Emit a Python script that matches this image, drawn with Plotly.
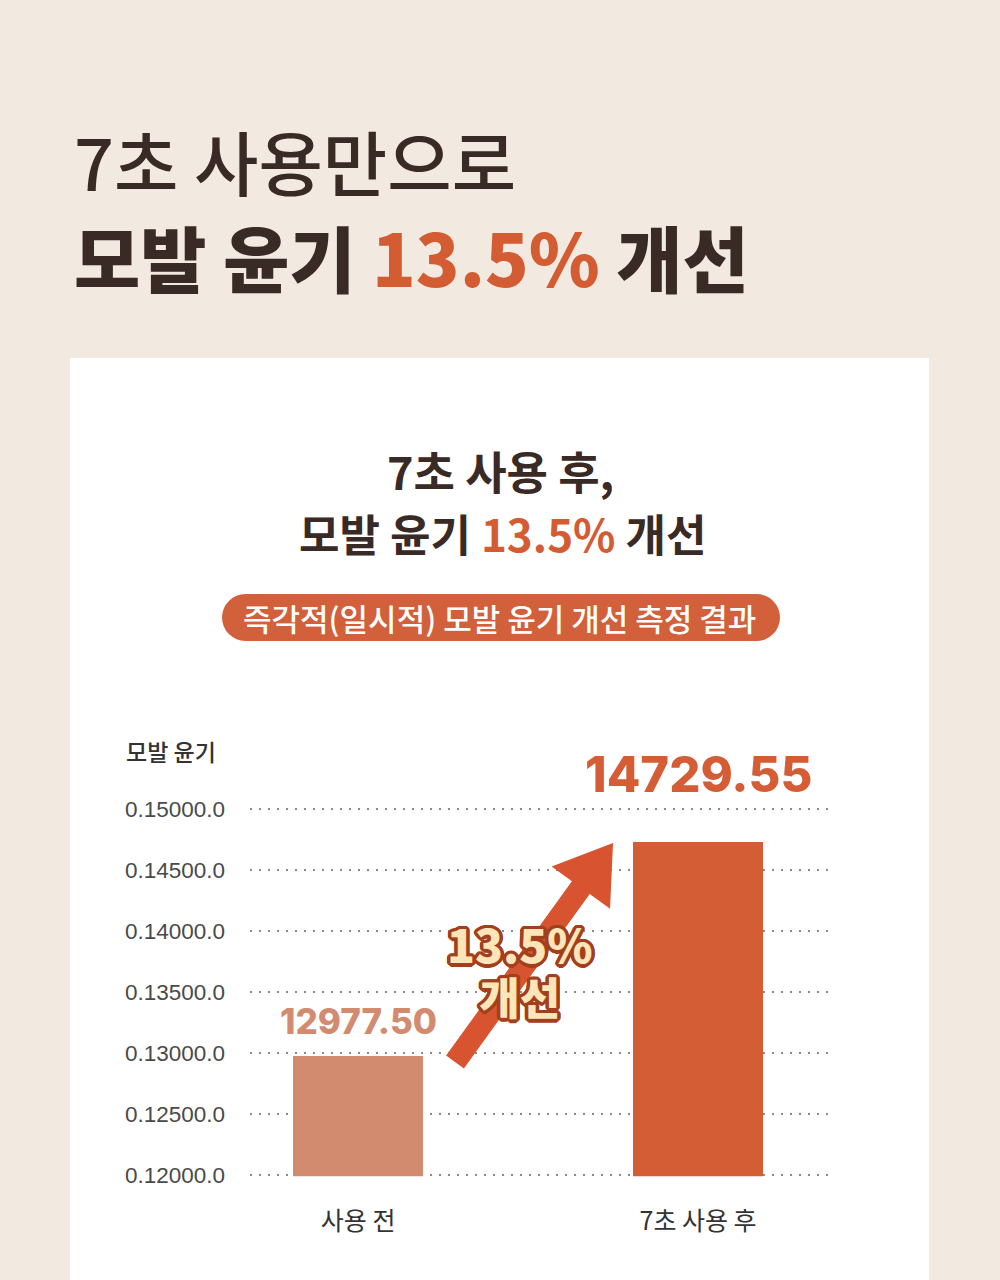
import plotly.graph_objects as go
import math

# ---- data ----
categories = ["사용 전", "7초 사용 후"]
values = [12977.50, 14729.55]
value_labels = ["12977.50", "14729.55"]
tick_values = [12000, 12500, 13000, 13500, 14000, 14500, 15000]
tick_labels = ["0.12000.0", "0.12500.0", "0.13000.0", "0.13500.0",
               "0.14000.0", "0.14500.0", "0.15000.0"]
bar_colors = ["#D38B70", "#D45D35"]

W, H = 1000, 1280
def px(x):
    return x / W
def py(y):
    return 1 - y / H

KR = "Noto Sans CJK KR"
DARK = "#3A2A25"
ORANGE = "#D35C33"

fig = go.Figure()
fig.add_trace(go.Bar(
    x=categories, y=values, marker=dict(color=bar_colors, line=dict(width=0)),
    width=0.382, hoverinfo="skip", showlegend=False,
))

shapes = []
# white card
shapes.append(dict(type="rect", xref="paper", yref="paper",
                   x0=px(70), x1=px(929), y0=py(1290), y1=py(358),
                   fillcolor="#FFFFFF", line=dict(width=0), layer="below"))
# pill
pill_col = "#D2603A"
p_top, p_bot = 594, 641
r = (p_bot - p_top) / 2
shapes.append(dict(type="rect", xref="paper", yref="paper",
                   x0=px(222 + r), x1=px(780 - r), y0=py(p_bot), y1=py(p_top),
                   fillcolor=pill_col, line=dict(width=0), layer="below"))
for cx in (222 + r, 780 - r):
    shapes.append(dict(type="circle", xref="paper", yref="paper",
                       x0=px(cx - r), x1=px(cx + r), y0=py(p_bot), y1=py(p_top),
                       fillcolor=pill_col, line=dict(width=0), layer="below"))

# arrow polygon (decoration)
sx, sy = 455, 1062
tx, ty = 613, 843
dx, dy = tx - sx, ty - sy
L = math.hypot(dx, dy)
ux, uy = dx / L, dy / L
nx, ny = -uy, ux
bx, by = tx - 55 * ux, ty - 55 * uy
hw, hh = 11, 36
pts = [
    (sx - hw * nx, sy - hw * ny),
    (bx - hw * nx, by - hw * ny),
    (bx - hh * nx, by - hh * ny),
    (tx, ty),
    (bx + hh * nx, by + hh * ny),
    (bx + hw * nx, by + hw * ny),
    (sx + hw * nx, sy + hw * ny),
]
path = "M " + " L ".join(f"{px(x):.5f},{py(y):.5f}" for x, y in pts) + " Z"
shapes.append(dict(type="path", xref="paper", yref="paper", path=path,
                   fillcolor="#D8532F", line=dict(width=0), layer="above"))

annotations = []
# main title
annotations.append(dict(xref="paper", yref="paper", x=px(72), y=py(160),
                        xanchor="left", yanchor="middle", showarrow=False,
                        text="7초 사용만으로",
                        font=dict(family=KR, size=70, color=DARK, weight=500)))
annotations.append(dict(xref="paper", yref="paper", x=px(72), y=py(256),
                        xanchor="left", yanchor="middle", showarrow=False,
                        text=f"모발 윤기 <span style='color:{ORANGE}'>13.5%</span> 개선",
                        font=dict(family=KR, size=72, color=DARK, weight=800)))
# inner title
annotations.append(dict(xref="paper", yref="paper", x=0.5, y=py(470),
                        xanchor="center", yanchor="middle", showarrow=False,
                        text="7초 사용 후,",
                        font=dict(family=KR, size=45, color=DARK, weight=700)))
annotations.append(dict(xref="paper", yref="paper", x=0.502, y=py(533),
                        xanchor="center", yanchor="middle", showarrow=False,
                        text=f"모발 윤기 <span style='color:{ORANGE}'>13.5%</span> 개선",
                        font=dict(family=KR, size=44, color=DARK, weight=700)))
# pill text
annotations.append(dict(xref="paper", yref="paper", x=px(499), y=py(617),
                        xanchor="center", yanchor="middle", showarrow=False,
                        text="즉각적(일시적) 모발 윤기 개선 측정 결과",
                        font=dict(family=KR, size=31, color="#FFFFFF", weight=500)))
# y-axis title
annotations.append(dict(xref="paper", yref="paper", x=px(124), y=py(751),
                        xanchor="left", yanchor="middle", showarrow=False,
                        text="모발 윤기",
                        font=dict(family=KR, size=23, color="#333333", weight=500)))
# value labels from data
label_sizes = [35, 49]
label_shift = [12, 36]
for c, v, t, col, s, sh in zip(categories, values, value_labels, bar_colors, label_sizes, label_shift):
    annotations.append(dict(xref="x", yref="y", x=c, y=v, yshift=sh,
                            xanchor="center", yanchor="bottom", showarrow=False,
                            text=t,
                            font=dict(family="Inter", size=s, color=col, weight=800)))
# improvement badge (outlined text, one two-line label)
outline = "#A33F1C"
offs = []
for k in range(16):
    a = 2 * math.pi * k / 16
    offs.append(f"{3.5 * math.cos(a):.2f}px {3.5 * math.sin(a):.2f}px 0 {outline}")
sh = ", ".join(offs)
annotations.append(dict(xref="paper", yref="paper", x=px(520), y=py(969),
                        xanchor="center", yanchor="middle", showarrow=False,
                        align="center",
                        text="<span style='font-size:46px'>13.5%</span><br>"
                             "<span style='font-size:44px'>개선</span>",
                        font=dict(family=KR, size=40, color="#FCE5B8", weight=900, shadow=sh)))

y_lo, y_hi = 11990, 15080
scale = 366 / 3000
bot_px = 1175 + (12000 - y_lo) * scale
top_px = 1175 - (y_hi - 12000) * scale

fig.update_layout(
    width=W, height=H,
    margin=dict(l=0, r=0, t=0, b=0, pad=0, autoexpand=False),
    paper_bgcolor="#F2E9E1",
    plot_bgcolor="rgba(0,0,0,0)",
    shapes=shapes,
    annotations=annotations,
    bargap=0,
    xaxis=dict(domain=[px(250), px(832)], type="category", automargin=False,
               range=[-0.318, 1.394], showgrid=False, zeroline=False,
               showline=False, ticks="", ticklabelstandoff=28,
               tickfont=dict(family=KR, size=25, color="#333333")),
    yaxis=dict(domain=[py(bot_px), py(top_px)], range=[y_lo, y_hi], automargin=False,
               tickvals=tick_values, ticktext=tick_labels,
               showgrid=True, gridcolor="#8A8A8A", gridwidth=2,
               griddash="2px,7px", zeroline=False, showline=False, ticks="",
               ticklabelstandoff=24,
               tickfont=dict(family="Liberation Sans", size=22.5, color="#4A4A4A")),
)

fig.write_html("out.html")
